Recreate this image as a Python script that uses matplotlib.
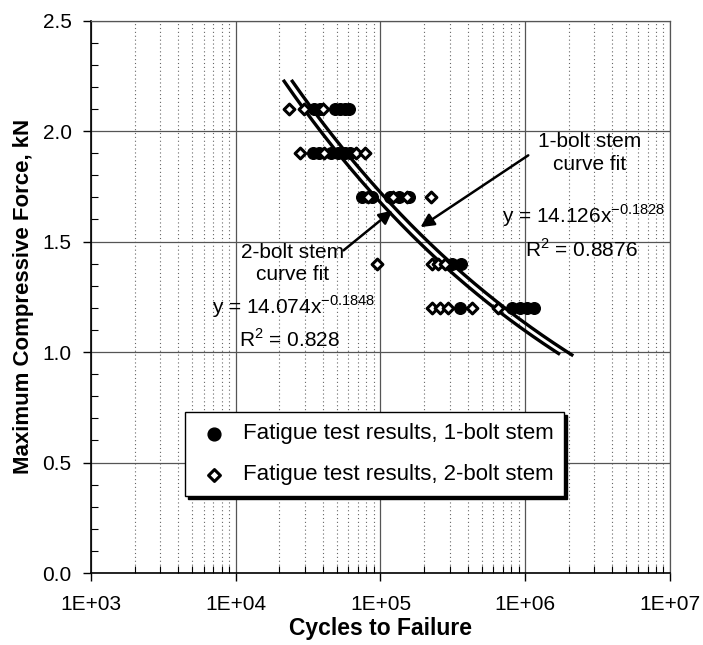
import matplotlib
matplotlib.use("Agg")
import matplotlib.pyplot as plt
from matplotlib.ticker import LogLocator, FuncFormatter, MultipleLocator
import numpy as np

plt.rcParams['font.family'] = ['Liberation Sans', 'DejaVu Sans']
plt.rcParams['mathtext.fontset'] = 'custom'
plt.rcParams['mathtext.rm'] = 'Liberation Sans'

# ---- data ----
bolt1_cycles = [34500, 37960, 48170, 52140, 56450, 60150,
                34000, 37360, 45200, 50500, 56450, 61120,
                75130, 88070, 117200, 135200, 158500,
                313800, 361900,
                356200, 813400, 923600, 1032000, 1154000]
bolt1_force = [2.1] * 6 + [1.9] * 6 + [1.7] * 5 + [1.4] * 2 + [1.2] * 5

bolt2_cycles = [23200, 29400, 39800,
                28000, 40450, 67240, 78800,
                82640, 122900, 153600, 224700,
                95350, 228300, 251200, 280800,
                228300, 259300, 294400, 430900, 651400]
bolt2_force = [2.1] * 3 + [1.9] * 4 + [1.7] * 4 + [1.4] * 4 + [1.2] * 5

fit1_coef, fit1_exp, fit1_r2 = 14.126, -0.1828, 0.8876
fit2_coef, fit2_exp, fit2_r2 = 14.074, -0.1848, 0.828
fit1_range = (24600, 2100000)
fit2_range = (21600, 1700000)

x_ticks = [1e3, 1e4, 1e5, 1e6, 1e7]
x_ticklabels = ["1E+03", "1E+04", "1E+05", "1E+06", "1E+07"]
y_ticks = [0.0, 0.5, 1.0, 1.5, 2.0, 2.5]

fig = plt.figure(figsize=(7.03, 6.45), dpi=100)
ax = fig.add_axes([0.1294, 0.1116, 0.8236, 0.8566])

ax.set_xscale('log')
ax.set_xlim(1e3, 1e7)
ax.set_ylim(0, 2.5)

# grid
ax.xaxis.set_minor_locator(LogLocator(base=10, subs=np.arange(2, 10)))
ax.yaxis.set_minor_locator(MultipleLocator(0.1))
ax.grid(True, which='major', axis='both', color='#555555', lw=0.9, ls='-')
ax.grid(True, which='minor', axis='x', color='#666666', lw=0.8, ls=(0, (1, 2.5)))
ax.set_axisbelow(True)

# fits
def curve(coef, ex, rng):
    xs = np.logspace(np.log10(rng[0]), np.log10(rng[1]), 200)
    return xs, coef * xs ** ex

for coef, ex, rng in [(fit1_coef, fit1_exp, fit1_range), (fit2_coef, fit2_exp, fit2_range)]:
    xs, ys = curve(coef, ex, rng)
    ax.plot(xs, ys, color='black', lw=2.4, zorder=3)

# data
ax.scatter(bolt1_cycles, bolt1_force, marker='o', s=70, facecolor='black',
           edgecolor='black', zorder=4, label='Fatigue test results, 1-bolt stem')
ax.scatter(bolt2_cycles, bolt2_force, marker='D', s=30, facecolor='white',
           edgecolor='black', linewidths=2.2, zorder=5, label='Fatigue test results, 2-bolt stem')

ax.set_xticks(x_ticks)
ax.set_xticklabels(x_ticklabels)
ax.set_yticks(y_ticks)
ax.yaxis.set_major_formatter(FuncFormatter(lambda v, p: f"{v:.1f}"))
ax.tick_params(axis='both', which='major', labelsize=15, direction='out', length=6, width=1)
ax.tick_params(axis='x', which='major', pad=10)
ax.tick_params(axis='y', which='major', pad=8)
ax.tick_params(axis='both', which='minor', direction='in', length=5, width=0.8)
for s in ['left', 'bottom']:
    ax.spines[s].set_color('black')
    ax.spines[s].set_linewidth(1.2)
for s in ['top', 'right']:
    ax.spines[s].set_color('#555555')
    ax.spines[s].set_linewidth(0.9)

ax.set_xlabel('Cycles to Failure', fontsize=16.5, fontweight='bold', labelpad=2)
ax.set_ylabel('Maximum Compressive Force, kN', fontsize=16, fontweight='bold', labelpad=6)

# annotations
fs = 15
arrow = dict(arrowstyle='-|>', color='black', lw=1.8, mutation_scale=20, shrinkA=0, shrinkB=0)
ax.text(2.8e6, 1.90, '1-bolt stem\ncurve fit', fontsize=fs, ha='center', va='center',
        linespacing=1.25, zorder=6)
ax.annotate('', xy=(1.89e5, 1.565), xytext=(1.05e6, 1.89), arrowprops=arrow, zorder=6)
ax.text(2.47e4, 1.40, '2-bolt stem\ncurve fit', fontsize=fs, ha='center', va='center',
        linespacing=1.25, zorder=6)
ax.annotate('', xy=(1.21e5, 1.64), xytext=(5.56e4, 1.46), arrowprops=arrow, zorder=6)

ax.text(6.9e5, 1.615, f'y = {fit1_coef}x$^{{\\mathregular{{{fit1_exp}}}}}$', fontsize=fs,
        ha='left', va='center', zorder=6)
ax.text(1.0e6, 1.465, f'R$^{{\\mathregular{{2}}}}$ = {fit1_r2}', fontsize=fs,
        ha='left', va='center', zorder=6)
ax.text(6.9e3, 1.205, f'y = {fit2_coef}x$^{{\\mathregular{{{fit2_exp}}}}}$', fontsize=fs,
        ha='left', va='center', zorder=6)
ax.text(1.05e4, 1.055, f'R$^{{\\mathregular{{2}}}}$ = {fit2_r2}', fontsize=fs,
        ha='left', va='center', zorder=6)

leg = ax.legend(loc='upper left', bbox_to_anchor=(0.162, 0.291), fontsize=16,
                frameon=True, fancybox=False, edgecolor='black', framealpha=1,
                shadow={'color': 'black', 'alpha': 1}, borderpad=0.5, borderaxespad=0,
                labelspacing=0.9, handletextpad=0.5, handlelength=1.6, markerscale=1.1)
leg.get_frame().set_linewidth(1.0)

fig.savefig('out.png', dpi=100)
